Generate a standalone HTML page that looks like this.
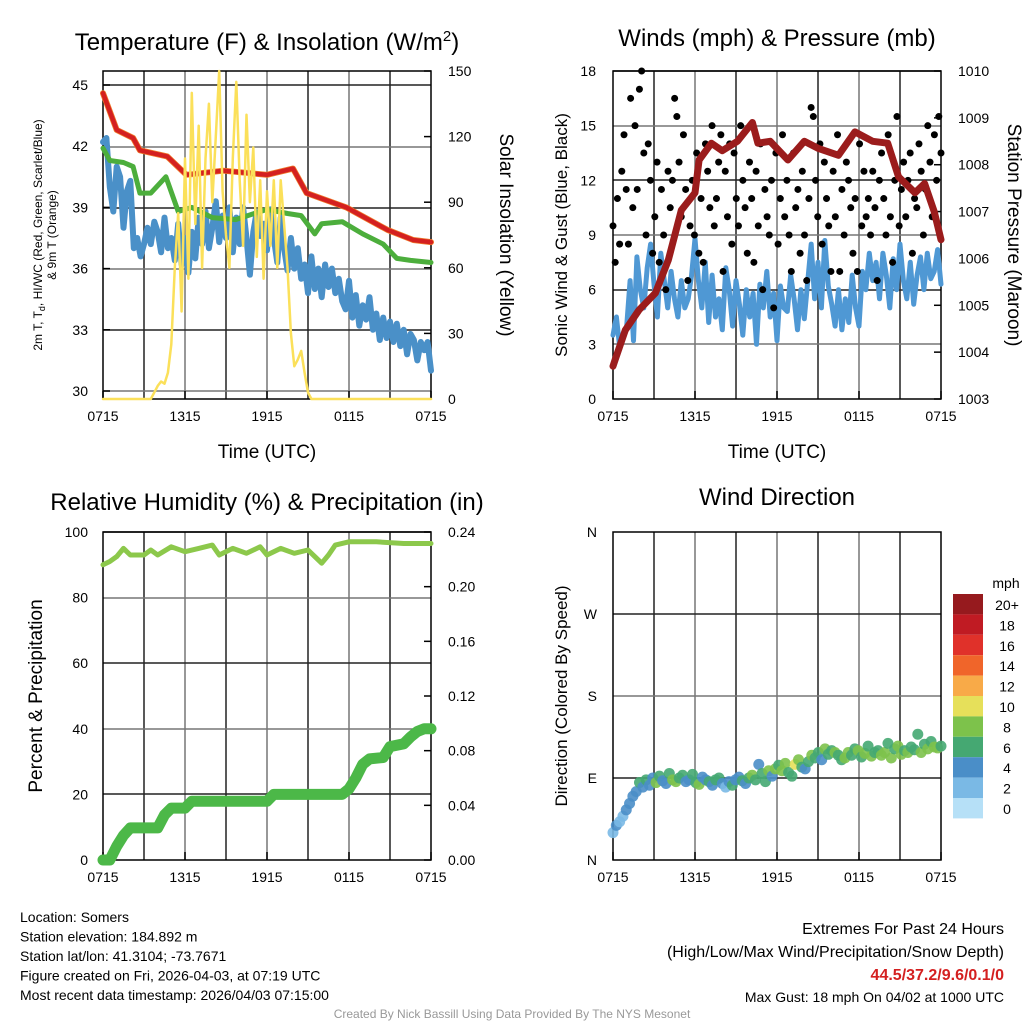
<!DOCTYPE html>
<html><head><meta charset="utf-8"><style>
body{margin:0;background:#fff;}
svg{display:block;font-family:"Liberation Sans",Arial,sans-serif;}
</style></head><body>
<svg id="c" width="1024" height="1024" viewBox="0 0 1024 1024" xmlns="http://www.w3.org/2000/svg"></svg>
<script>
// ---------- DATA ----------
const timeTicks = ["0715","1315","1915","0115","0715"];
const tempT = [0,1,2.2,2.7,4.7,6.1,8.8,12,13.9,14.9,17.8,20.8,22.7,24];
const tempV = [44.6,42.8,42.4,41.8,41.5,40.6,40.8,40.6,40.9,39.7,39.0,37.9,37.4,37.3];
const dewT = [0,0.5,1.5,2.2,2.7,3.5,4.6,5.5,6.5,8,9.7,12,13.5,14.5,15.5,16,17.5,19,20.5,21.5,22.5,24];
const dewV = [41.9,41.3,41.2,41.0,39.7,39.7,40.5,38.8,39.0,38.5,38.4,38.9,38.7,38.6,37.7,38.2,38.3,37.7,37.2,36.5,36.4,36.3];
const hiwcV = [42.2,42.4,40.0,38.8,41.0,40.5,38.0,39.8,40.3,37.0,37.5,36.6,37.2,
38.0,37.2,38.3,37.8,36.8,38.5,37.0,37.5,36.4,38.2,36.2,37.5,35.8,
37.8,36.5,38.5,37.2,38.8,37.0,38.0,39.3,37.3,38.6,37.5,39.0,36.8,
38.5,37.2,39.0,37.5,35.7,37.8,38.8,37.6,38.2,36.9,38.9,37.5,36.3,
38.5,37.0,35.9,37.5,36.0,37.0,35.5,36.2,34.8,36.6,35.0,36.0,34.6,
36.2,35.1,36.0,34.8,35.5,34.4,34.0,35.4,33.6,34.7,33.2,34.2,33.5,
34.6,33.0,33.8,32.5,33.6,32.6,33.4,32.4,33.3,32.2,33.0,31.8,32.8,32.5,31.5,32.4,32.0,32.4,31.0];
const solarV = [0,0,0,0,0,0,0,0,0,0,0,0,0,0,0,
3,6,8,7,12,25,60,85,40,110,55,140,80,125,60,110,135,90,120,150,95,75,60,110,145,100,70,130,90,115,65,100,55,95,70,100,60,100,80,60,30,15,18,22,12,3,0,
0,0,0,0,0,0,0,0,0,0,0,0,0,0,0,0,0,0,0,0,0,0,0,0,0,0,0,0,0,0,0,0,0,0,0];
const windV = [3.5,4.5,2.8,3.5,4.0,6.5,3.2,7.8,6.0,5.0,7.2,8.5,6.3,
4.5,8.0,6.5,5.0,7.0,5.5,4.5,6.5,5.0,5.5,6.8,8.8,6.5,
5.0,7.5,4.2,6.8,4.5,5.5,3.8,7.2,6.0,4.0,6.5,5.2,3.5,
6.0,4.5,5.8,3.0,6.3,5.0,7.0,4.5,5.8,3.2,6.2,5.0,4.8,
6.8,5.5,3.8,6.0,4.4,6.5,8.5,5.5,7.5,5.0,8.7,6.2,5.2,
4.0,6.0,3.8,5.5,4.2,6.8,5.0,4.0,7.0,6.0,8.0,6.5,7.5,
5.5,8.0,6.8,5.0,7.7,6.0,8.5,6.5,5.5,7.5,5.2,6.8,7.8,6.0,8.0,6.6,7.0,8.2,6.3];
const gustV = [9.5,7.5,11.0,8.5,12.5,14.5,11.5,8.5,16.5,10.5,15.0,11.5,17.0,18.0,13.5,
9.0,14.0,12.0,8.0,10.0,13.0,7.5,11.5,9.0,6.0,12.5,10.5,12.0,16.5,15.5,
13.0,10.0,14.5,11.5,6.5,9.5,12.0,9.0,13.5,8.0,11.0,7.5,14.0,12.5,10.5,
15.0,9.5,11.0,13.0,14.5,7.0,12.5,10.0,14.0,8.5,13.5,11.0,9.5,15.0,12.0,
10.5,8.0,13.0,11.0,7.5,12.5,9.5,14.0,6.0,11.5,10.0,9.0,12.0,5.0,13.5,
8.5,11.0,14.5,10.0,12.0,9.0,7.0,13.5,10.5,11.5,8.0,12.5,9.0,6.5,11.0,
16.0,15.5,12.0,10.0,14.0,8.5,13.0,11.0,9.5,7.0,12.5,10.0,14.5,7.0,11.5,
9.0,13.0,12.0,10.5,8.0,11.0,7.0,14.0,9.5,12.5,10.0,11.0,9.0,12.5,10.5,
6.5,12.0,13.5,11.0,9.0,14.5,10.0,7.5,12.0,15.5,9.5,11.5,13.0,10.0,12.0,
13.5,8.0,11.0,10.5,14.0,12.5,9.0,11.5,15.0,13.0,10.0,14.5,12.0,15.5,13.5];
const presT = [0,0.15,0.9,1.9,3.1,4.05,5.0,6.0,6.3,7.2,8,9.1,10.2,10.6,11.5,12.8,14.0,15,16.5,17.7,19,20.1,20.9,22.1,22.8,23.5,24];
const presV = [1003.7,1003.83,1004.47,1004.9,1005.26,1005.97,1007.03,1007.4,1008.1,1008.46,1008.3,1008.5,1008.9,1008.46,1008.5,1008.1,1008.5,1008.35,1008.2,1008.7,1008.5,1008.46,1007.74,1007.4,1007.6,1007.0,1006.4];
const rhT = [0,0.5,1,1.5,2,3,3.5,4,5,6,7,8,8.5,9.5,10.5,11.5,12,13,14,15,15.5,16,16.5,17,18,20,22,24];
const rhV = [90,91,92.5,95,93,93,94.5,93,95.5,94,95,96,93,95,93.5,95.5,93,95,93.5,94.5,92.5,90.5,93,96,97,97,96.5,96.5];
const pcpT = [0,0.5,1,1.5,2,4,4.5,5,6,6.5,12,12.5,17.5,18,18.5,19,19.5,20.5,21,22,22.5,23,23.5,24];
const pcpV = [0,0,0.01,0.018,0.0235,0.0235,0.033,0.038,0.038,0.043,0.043,0.048,0.048,0.052,0.06,0.07,0.074,0.075,0.083,0.085,0.09,0.094,0.096,0.096];
const dirV = [30,38,42,48,55,62,70,75,85,80, 88,82,90,85,92,87,84,95,88,86, 90,93,86,88,94,85,83,91,88,86,
82,88,90,84,80,86,82,88,91,87, 84,90,93,88,105,95,86,98,92,100, 104,98,106,96,92,105,110,102,100,108,
115,112,118,110,122,116,120,118,115,110, 112,118,115,122,120,113,117,125,114,118, 120,115,118,128,112,122,125,116,120,118,
124,121,138,118,127,122,130,124,123,125];
const spdV = [3,4,3,2,4,4,5,4,6,5, 6,5,4,8,6,5,4,6,8,8, 6,7,4,5,6,6,8,5,4,6, 5,6,7,4,3,5,6,4,5,6, 4,6,8,6,4,6,7,8,5,8,
6,9,8,6,7,10,8,6,5,6, 8,7,6,5,8,6,7,8,6,7, 8,8,6,7,8,6,8,7,8,6, 7,8,8,6,8,7,8,8,6,8, 6,7,6,8,7,8,6,8,8,7];
const legendLabels = ["20+","18","16","14","12","10","8","6","4","2","0"];
const legendColors = ["#961a1e","#c01b23","#e0312a","#f0652a","#f8aa48","#e6e05a","#7dc24b","#45a872","#4a8ec8","#7ab9e5","#b6e0f7"];

// ---------- HELPERS ----------
const svg = document.getElementById('c');
const NS = "http://www.w3.org/2000/svg";
function mk(tag, attrs, parent){const e=document.createElementNS(NS,tag);for(const k in attrs)e.setAttribute(k,attrs[k]);(parent||svg).appendChild(e);return e;}
function txt(s,x,y,size,anchor,parent,extra){const e=mk('text',Object.assign({x:x,y:y,'font-size':size,'text-anchor':anchor||'middle',fill:'#000'},extra||{}),parent);e.textContent=s;return e;}
function xScale(x0){return t=>x0+t/24*328;}
function lin(d0,d1,p0,p1){return v=>p0+(v-d0)/(d1-d0)*(p1-p0);}
function poly(ts,vs,xs,ys,color,w,name){
  const pts=ts.map((t,i)=>xs(t).toFixed(1)+","+ys(vs[i]).toFixed(1)).join(" ");
  const p=mk('polyline',{points:pts,fill:'none',stroke:color,'stroke-width':w,'stroke-linejoin':'round','stroke-linecap':'round'});
  
  
  return p;
}
function evenT(n){const a=[];for(let i=0;i<n;i++)a.push(i*24/(n-1));return a;}
function frame(x0,y0,hLines,name){
  const g=mk('g',{});
  
  
  for(let k=1;k<8;k++){const x=x0+k*41;mk('line',{x1:x,y1:y0,x2:x,y2:y0+328,stroke:(k%2?'#222':'#777'),'stroke-width':1.5},g);}
  hLines.forEach((y,i)=>mk('line',{x1:x0,y1:y,x2:x0+328,y2:y,stroke:(i%2?'#777':'#222'),'stroke-width':1.5},g));
  mk('rect',{x:x0,y:y0,width:328,height:328,fill:'none',stroke:'#000','stroke-width':1.5},g);
  const xs=xScale(x0);
  timeTicks.forEach((s,i)=>{const x=xs(i*6);mk('line',{x1:x,y1:y0+328,x2:x,y2:y0+320,stroke:'#000','stroke-width':1.5},g);txt(s,x,y0+350,14,'middle',g);});
  return g;
}

// ---------- PANEL 1 ----------
{
  const x0=103,y0=71,xs=xScale(x0);
  const ys=lin(45,30,85,391), yr=lin(0,150,399,71);
  const grid=[85,147,208,269,330,391];
  frame(x0,y0,grid,'temperature-plot-grid');
  [45,42,39,36,33,30].forEach(v=>{txt(String(v),88,ys(v)+5,14,'end');mk('line',{x1:x0,y1:ys(v),x2:x0+7,y2:ys(v),stroke:'#000','stroke-width':1.5});});
  [150,120,90,60,30,0].forEach(v=>{txt(String(v),448,yr(v)+5,14,'start');mk('line',{x1:431,y1:yr(v),x2:424,y2:yr(v),stroke:'#000','stroke-width':1.5});});
  poly(evenT(hiwcV.length),hiwcV,xs,ys,'#4a90c8',6,'heat-index-windchill-line');
  poly(dewT,dewV,xs,ys,'#4cae3c',5,'dewpoint-line');
  poly(tempT,tempV,xs,ys,'#f07a2a',6,'9m-temperature-line');
  poly(tempT,tempV,xs,ys,'#d42020',4.5,'2m-temperature-line');
  poly(evenT(solarV.length),solarV,xs,yr,'#fbe05a',2.5,'solar-insolation-line');
  const t=txt('',267,50,24,'middle');t.innerHTML='Temperature (F) &amp; Insolation (W/m<tspan dy="-9" font-size="15">2</tspan><tspan dy="9">)</tspan>';
  
  txt('Time (UTC)',267,458,19,'middle');
  const yl=mk('text',{transform:'translate(42,235) rotate(-90)','font-size':12,'text-anchor':'middle'});
  yl.innerHTML='<tspan x="0" y="0">2m T, T<tspan font-size="9" dy="3">d</tspan><tspan dy="-3">, HI/WC (Red, Green, Scarlet/Blue)</tspan></tspan><tspan x="0" y="14">&amp; 9m T (Orange)</tspan>';
  
  txt('Solar Insolation (Yellow)',0,0,19,'middle',null,{transform:'translate(500,235) rotate(90)'});
}
// ---------- PANEL 2 ----------
{
  const x0=613,y0=71,xs=xScale(x0);
  const ys=lin(0,18,399,71), yr=lin(1003,1010,399,71);
  const grid=[71,126,180,235,290,344];
  frame(x0,y0,grid,'winds-plot-grid');
  [18,15,12,9,6,3,0].forEach(v=>{txt(String(v),596,ys(v)+5,14,'end');});
  [1010,1009,1008,1007,1006,1005,1004,1003].forEach(v=>{txt(String(v),958,yr(v)+5,14,'start');mk('line',{x1:941,y1:yr(v),x2:934,y2:yr(v),stroke:'#000','stroke-width':1.5});});
  poly(evenT(windV.length),windV,xs,ys,'#4f98d4',5,'sonic-wind-line');
  const gt=evenT(gustV.length);
  gustV.forEach((v,i)=>{const c=mk('circle',{cx:xs(gt[i]),cy:ys(v),r:3.5,fill:'#000'});
    
    });
  poly(presT,presV,xs,yr,'#9b1c1c',7,'station-pressure-line');
  txt('Winds (mph) & Pressure (mb)',777,46,24,'middle');
  txt('Time (UTC)',777,458,19,'middle');
  txt('Sonic Wind & Gust (Blue, Black)',0,0,17,'middle',null,{transform:'translate(567,235) rotate(-90)'});
  txt('Station Pressure (Maroon)',0,0,19,'middle',null,{transform:'translate(1008,235) rotate(90)'});
}
// ---------- PANEL 3 ----------
{
  const x0=103,y0=532,xs=xScale(x0);
  const ys=lin(0,100,860,532), yr=lin(0,0.24,860,532);
  const grid=[532,598,663,729,794];
  frame(x0,y0,grid,'humidity-plot-grid');
  [100,80,60,40,20,0].forEach(v=>txt(String(v),88,ys(v)+5,14,'end'));
  [0.24,0.20,0.16,0.12,0.08,0.04,0.00].forEach(v=>{txt(v.toFixed(2),448,yr(v)+5,14,'start');mk('line',{x1:431,y1:yr(v),x2:424,y2:yr(v),stroke:'#000','stroke-width':1.5});});
  poly(rhT,rhV,xs,ys,'#8cc84b',5,'relative-humidity-line');
  poly(pcpT,pcpV,xs,yr,'#4cb848',11,'precipitation-line');
  txt('Relative Humidity (%) & Precipitation (in)',267,510,24,'middle');
  txt('Percent & Precipitation',0,0,19,'middle',null,{transform:'translate(42,696) rotate(-90)'});
}
// ---------- PANEL 4 ----------
{
  const x0=613,y0=532,xs=xScale(x0);
  const ys=lin(0,360,860,532);
  const grid=[614,696,778];
  frame(x0,y0,grid,'wind-direction-plot-grid');
  [["N",360],["W",270],["S",180],["E",90],["N",0]].forEach(d=>txt(d[0],597,ys(d[1])+5,14,'end'));
  const dt=evenT(dirV.length);
  dirV.forEach((v,i)=>{const b=Math.min(10,Math.floor(spdV[i]/2));
    const c=mk('circle',{cx:xs(dt[i]),cy:ys(v),r:5.5,fill:legendColors[10-b],'fill-opacity':0.9});
    
    });
  txt('Wind Direction',777,505,24,'middle');
  txt('Direction (Colored By Speed)',0,0,17,'middle',null,{transform:'translate(567,696) rotate(-90)'});
  const lg=mk('g',{});
  
  
  txt('mph',1006,588,14,'middle',lg);
  legendLabels.forEach((s,i)=>{mk('rect',{x:953,y:594+i*20.4,width:30,height:20.4,fill:legendColors[i]},lg);txt(s,1007,610+i*20.4,14,'middle',lg);});
}
// ---------- FOOTER ----------
{
  const f=mk('g',{});
  
  
  ["Location: Somers","Station elevation: 184.892 m","Station lat/lon: 41.3104; -73.7671","Figure created on Fri, 2026-04-03, at 07:19 UTC","Most recent data timestamp: 2026/04/03 07:15:00"].forEach((s,i)=>txt(s,20,922+i*19.5,14,'start',f));
  const e=mk('g',{});
  
  
  txt('Extremes For Past 24 Hours',1004,934,16,'end',e);
  txt('(High/Low/Max Wind/Precipitation/Snow Depth)',1004,957,16,'end',e);
  txt('44.5/37.2/9.6/0.1/0',1004,980,16,'end',e,{fill:'#d42020','font-weight':'bold'});
  txt('Max Gust: 18 mph On 04/02 at 1000 UTC',1004,1002,14,'end',e);
  txt('Created By Nick Bassill Using Data Provided By The NYS Mesonet',512,1018,12,'middle',null,{fill:'#999'});
}
</script>
</body></html>
